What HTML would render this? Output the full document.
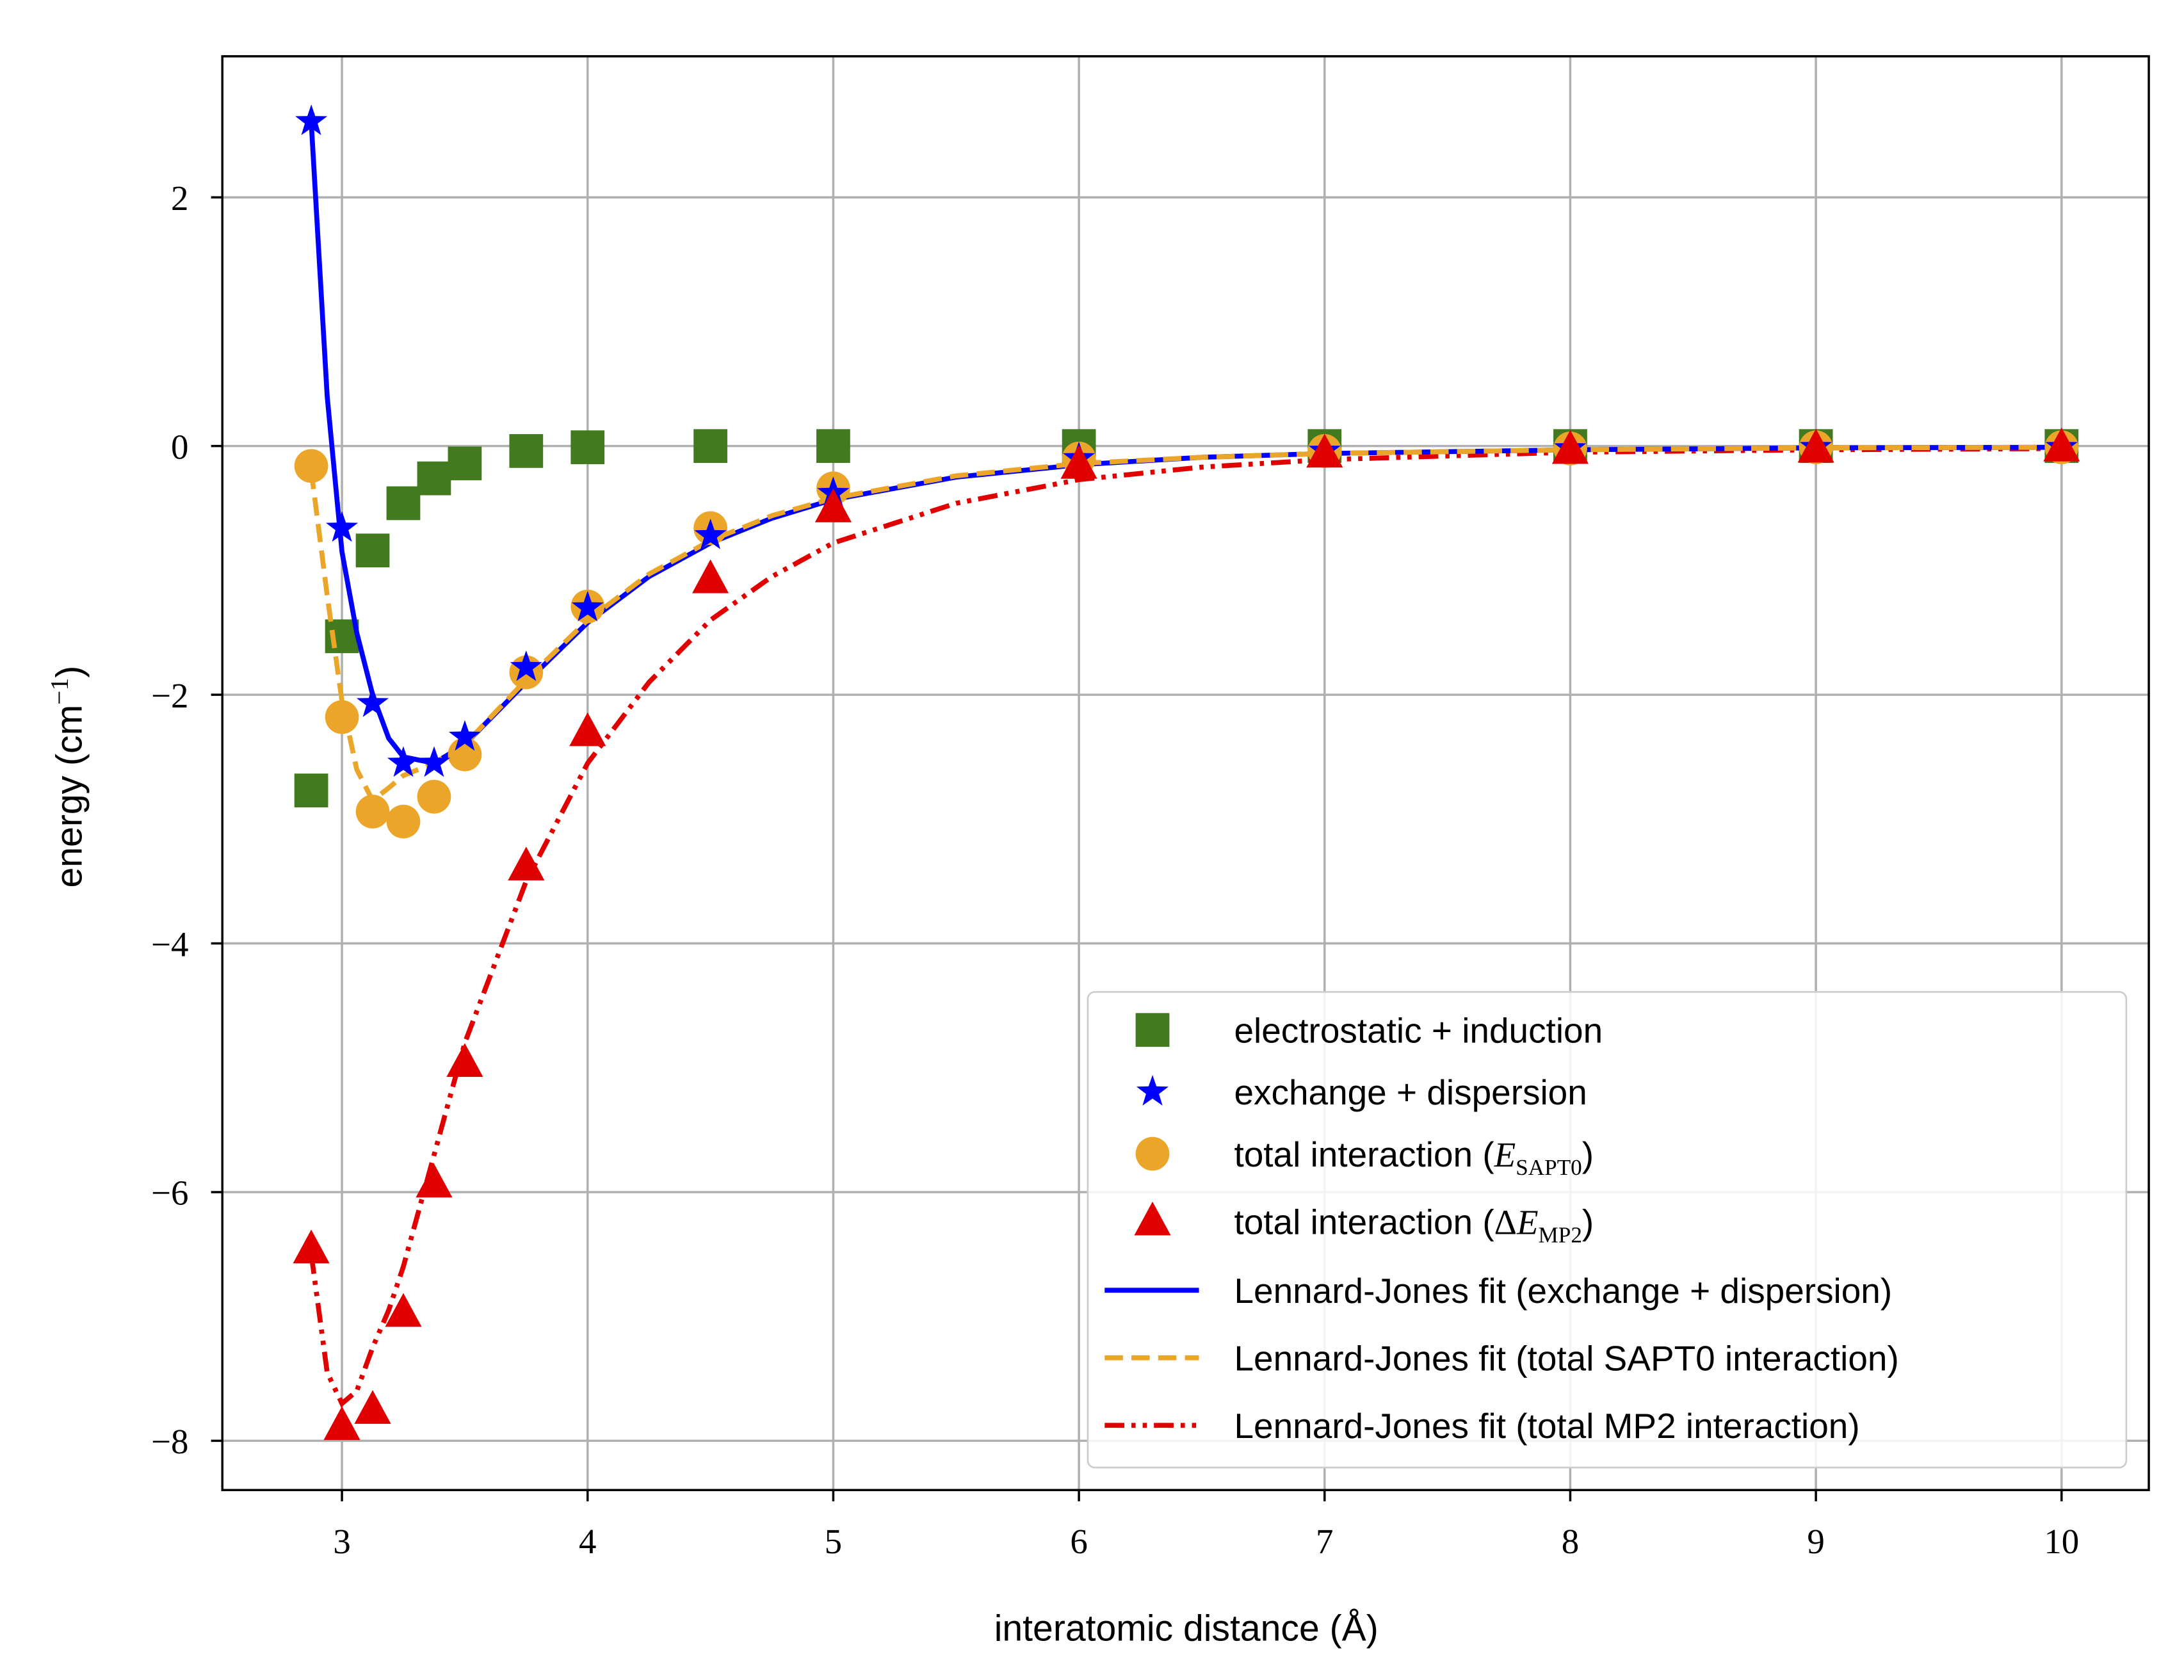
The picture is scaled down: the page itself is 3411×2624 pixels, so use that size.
<!DOCTYPE html>
<html><head><meta charset="utf-8"><style>
html,body{margin:0;padding:0;background:#fff}
svg{display:block}
.tk{font-family:"Liberation Serif",serif;font-size:25px;fill:#000}
.lb{font-family:"Liberation Sans",sans-serif;font-size:26px;fill:#000}
.lg{font-family:"Liberation Sans",sans-serif;font-size:25px;fill:#000}
</style></head><body>
<svg id="chart" width="3411" height="2624" viewBox="0 0 1552 1194" preserveAspectRatio="none" xmlns="http://www.w3.org/2000/svg">
<rect width="1552" height="1194" fill="#fff"/>
<g id="grid"></g>
<g id="series"></g>
<rect x="158" y="40" width="1369" height="1019" fill="none" stroke="#000" stroke-width="1.6"/>
<g id="ticks"></g>
<text class="lb" x="843" y="1166" text-anchor="middle">interatomic distance (Å)</text>
<text class="lb" transform="translate(58,552) rotate(-90)" text-anchor="middle">energy (cm<tspan font-family="Liberation Serif" dy="-10" font-size="18">−1</tspan><tspan dy="10">)</tspan></text>
<g id="legend">
<rect x="773" y="705" width="738" height="338" rx="5" fill="#fff" fill-opacity="0.85" stroke="#ccc" stroke-width="1.2"/>
</g>
</svg>
<script>
const xTicks=[3,4,5,6,7,8,9,10];
const yTicks=[2,0,-2,-4,-6,-8];
const yTickLabels=["2","0","−2","−4","−6","−8"];
const xData=[2.875,3,3.125,3.25,3.375,3.5,3.75,4,4.5,5,6,7,8,9,10];
const elecInd=[-2.77,-1.53,-0.84,-0.46,-0.26,-0.14,-0.04,-0.01,0,0,0,0,0,0,0];
const exchDisp=[2.61,-0.66,-2.07,-2.55,-2.55,-2.34,-1.78,-1.3,-0.72,-0.38,-0.1,-0.04,-0.02,-0.01,-0.01];
const totalSapt=[-0.16,-2.18,-2.94,-3.02,-2.82,-2.48,-1.82,-1.29,-0.66,-0.34,-0.1,-0.04,-0.02,-0.01,-0.01];
const totalMp2=[-6.46,-7.88,-7.75,-6.97,-5.93,-4.96,-3.38,-2.3,-1.07,-0.5,-0.15,-0.06,-0.03,-0.02,-0.01];
const fitX=[2.875,2.94,3,3.06,3.125,3.19,3.25,3.375,3.5,3.75,4,4.25,4.5,4.75,5,5.5,6,6.5,7,8,9,10];
const fitExch=[2.6,0.4,-0.85,-1.5,-2.0,-2.35,-2.5,-2.55,-2.4,-1.9,-1.42,-1.05,-0.78,-0.58,-0.43,-0.25,-0.15,-0.09,-0.06,-0.03,-0.015,-0.01];
const fitSapt=[-0.2,-1.2,-2.05,-2.6,-2.85,-2.75,-2.65,-2.55,-2.4,-1.88,-1.4,-1.03,-0.76,-0.56,-0.42,-0.24,-0.14,-0.09,-0.06,-0.03,-0.015,-0.01];
const fitMp2=[-6.5,-7.45,-7.7,-7.6,-7.25,-6.95,-6.6,-5.7,-4.8,-3.5,-2.55,-1.9,-1.4,-1.05,-0.78,-0.46,-0.27,-0.17,-0.11,-0.05,-0.03,-0.02];
const L=158,R=1527,T=40,B=1059;
const X=v=>243+(v-3)*(1465-243)/7;
const Y=v=>317-v*(1024-317)/8;
const NS="http://www.w3.org/2000/svg";
function mk(tag,attrs,parent){const e=document.createElementNS(NS,tag);for(const k in attrs)e.setAttribute(k,attrs[k]);parent.appendChild(e);return e;}
const grid=document.getElementById('grid'),ticks=document.getElementById('ticks'),ser=document.getElementById('series'),leg=document.getElementById('legend');
xTicks.forEach(t=>{
 const g=mk('line',{x1:X(t),x2:X(t),y1:T,y2:B,stroke:'#b0b0b0','stroke-width':1.6},grid);
 
 const tl=mk('line',{x1:X(t),x2:X(t),y1:B,y2:B+8,stroke:'#000','stroke-width':1.6},ticks);
 
 const tx=mk('text',{x:X(t),y:B+45,'text-anchor':'middle',class:'tk'},ticks);tx.textContent=t;
 
});
yTicks.forEach((t,i)=>{
 const g=mk('line',{x1:L,x2:R,y1:Y(t),y2:Y(t),stroke:'#b0b0b0','stroke-width':1.6},grid);
 
 const tl=mk('line',{x1:L-8,x2:L,y1:Y(t),y2:Y(t),stroke:'#000','stroke-width':1.6},ticks);
 
 const tx=mk('text',{x:L-24,y:Y(t)+9,'text-anchor':'end',class:'tk'},ticks);tx.textContent=yTickLabels[i];
 
});
function path(xs,ys){return xs.map((x,i)=>(i?'L':'M')+X(x).toFixed(1)+','+Y(ys[i]).toFixed(1)).join(' ');}
function square(cx,cy,p,c){return mk('rect',{x:cx-12,y:cy-12,width:24,height:24,fill:c},p);}
function star(cx,cy,p,c,r){r=r||12;let d='';for(let i=0;i<10;i++){const a=-Math.PI/2+i*Math.PI/5,rr=i%2?r*0.4:r;d+=(i?'L':'M')+(cx+rr*Math.cos(a)).toFixed(1)+','+(cy+rr*Math.sin(a)).toFixed(1);}return mk('path',{d:d+'Z',fill:c},p);}
function circ(cx,cy,p,c){return mk('circle',{cx:cx,cy:cy,r:12,fill:c},p);}
function tri(cx,cy,p,c){return mk('path',{d:`M${cx},${cy-14} L${cx+13},${cy+10} L${cx-13},${cy+10} Z`,fill:c},p);}
const G='#437a1f',Bl='#0000ff',O='#eba62a',Rd='#e00000';
xData.forEach((x,i)=>{const e=square(X(x),Y(elecInd[i]),ser,G);});
let p=mk('path',{d:path(fitX,fitMp2),fill:'none',stroke:Rd,'stroke-width':3.5,'stroke-dasharray':'14 5 3 5 3 5'},ser);

p=mk('path',{d:path(fitX,fitExch),fill:'none',stroke:Bl,'stroke-width':3.5},ser);

p=mk('path',{d:path(fitX,fitSapt),fill:'none',stroke:O,'stroke-width':3.5,'stroke-dasharray':'13 6'},ser);

xData.forEach((x,i)=>{const e=circ(X(x),Y(totalSapt[i]),ser,O);});
xData.forEach((x,i)=>{const e=star(X(x),Y(exchDisp[i]),ser,Bl);});
xData.forEach((x,i)=>{const e=tri(X(x),Y(totalMp2[i]),ser,Rd);});
const ly=[732,776,820,868,917,965,1013];
const labels=['electrostatic + induction','exchange + dispersion',null,null,'Lennard-Jones fit (exchange + dispersion)','Lennard-Jones fit (total SAPT0 interaction)','Lennard-Jones fit (total MP2 interaction)'];
let m=square(819,ly[0],leg,G);
m=star(819,ly[1],leg,Bl);
m=circ(819,ly[2],leg,O);
m=tri(819,ly[3],leg,Rd);
m=mk('line',{x1:785,x2:852,y1:ly[4],y2:ly[4],stroke:Bl,'stroke-width':3.5},leg);
m=mk('line',{x1:785,x2:852,y1:ly[5],y2:ly[5],stroke:O,'stroke-width':3.5,'stroke-dasharray':'13 6'},leg);
m=mk('line',{x1:785,x2:852,y1:ly[6],y2:ly[6],stroke:Rd,'stroke-width':3.5,'stroke-dasharray':'14 5 3 5 3 5'},leg);
ly.forEach((y,i)=>{
 const t=mk('text',{x:877,y:y+9,class:'lg'},leg);
 
 if(labels[i])t.textContent=labels[i];
 else if(i===2)t.innerHTML='total interaction (<tspan font-family="Liberation Serif" font-style="italic">E</tspan><tspan font-family="Liberation Serif" font-size="16" dy="6">SAPT0</tspan><tspan dy="-6">)</tspan>';
 else t.innerHTML='total interaction (<tspan font-family="Liberation Serif">Δ</tspan><tspan font-family="Liberation Serif" font-style="italic">E</tspan><tspan font-family="Liberation Serif" font-size="16" dy="6">MP2</tspan><tspan dy="-6">)</tspan>';
});
</script>
</body></html>
